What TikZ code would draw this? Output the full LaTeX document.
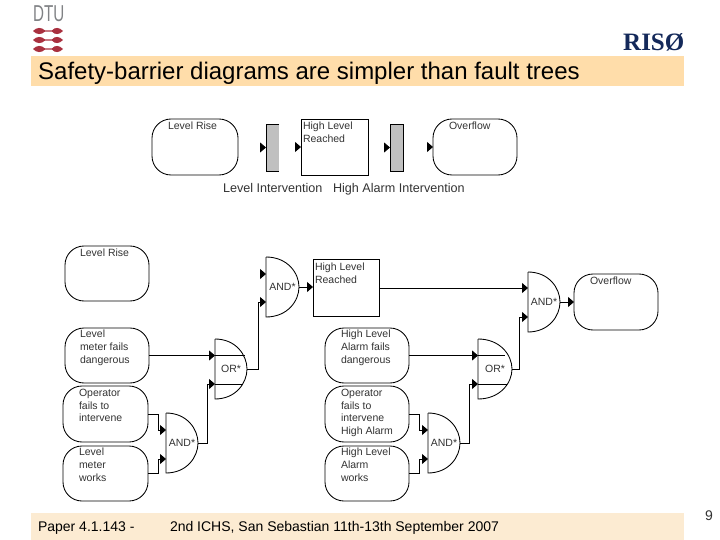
\documentclass[tikz,border=0pt]{standalone}
\usepackage{fontspec}
\setmainfont{Liberation Sans}
\newfontfamily\risofont{Liberation Serif}
\usetikzlibrary{arrows.meta}
\definecolor{headband}{HTML}{FFDDAA}
\definecolor{footband}{HTML}{FCEBD2}
\definecolor{barrier}{HTML}{C0C0C0}
\definecolor{dtured}{HTML}{A9303F}
\definecolor{dtugray}{HTML}{808285}
\definecolor{risoblue}{HTML}{14295A}
\tikzset{
  lin/.style={draw=black,line width=0.85pt},
  arr/.style={lin,-{Triangle[length=6pt,width=10pt]}},
  rbox/.style={lin,rounded corners=19pt,inner sep=0pt,outer sep=0pt},
  sbox/.style={lin,inner sep=0pt,outer sep=0pt},
  gatebox/.style={inner sep=0pt,outer sep=0pt,font=\fontsize{10.5}{12.5}\selectfont,text=black!80},
  lbl/.style={anchor=north west,inner sep=0pt,outer sep=0pt,align=left,font=\fontsize{10.5}{12.7}\selectfont,text=black!80},
  captext/.style={anchor=base west,inner sep=0pt,outer sep=0pt,font=\fontsize{12.6}{14}\selectfont,text=black!80},
  foot/.style={anchor=base west,inner sep=0pt,outer sep=0pt,font=\fontsize{14}{16}\selectfont},
}
% \gategl{name}{left x}{mid y}{width}{label}
\newcommand{\gategl}[5]{%
  \node[gatebox,minimum width=#4pt,minimum height=60pt] (#1) at (#2+#4/2,#3) {\raisebox{-1pt}{#5}};
  \draw[lin] (#2,#3-30) -- (#2,#3+30)
     .. controls (#2+#4*0.65,#3+30) and (#2+#4,#3+14) .. (#2+#4,#3)
     .. controls (#2+#4,#3-14) and (#2+#4*0.65,#3-30) .. (#2,#3-30);}
% \rboxat{name}{x1}{y1}{x2}{y2}
\newcommand{\rboxat}[5]{\node[rbox,minimum width=#4pt-#2pt,minimum height=#5pt-#3pt] (#1) at ({(#2+#4)/2},{(#3+#5)/2}) {};}
\newcommand{\sboxat}[5]{\node[sbox,minimum width=#4pt-#2pt,minimum height=#5pt-#3pt] (#1) at ({(#2+#4)/2},{(#3+#5)/2}) {};}
\newcommand{\dtumark}[2]{%
  \fill[dtured] (#1,#2) .. controls (#1+4,#2-4) and (#1+8,#2-4) .. (#1+12,#2-0.6)
     -- (#1+19,#2-0.6) .. controls (#1+22,#2-4) and (#1+26,#2-4) .. (#1+30,#2)
     .. controls (#1+26,#2+4) and (#1+22,#2+4) .. (#1+19,#2+0.6)
     -- (#1+12,#2+0.6) .. controls (#1+8,#2+4) and (#1+4,#2+4) .. (#1,#2) -- cycle;}
\begin{document}
\begin{tikzpicture}[x=1pt,y=-1pt]
\useasboundingbox (0,0) rectangle (720,540);
\fill[white] (0,0) rectangle (720,540);
% bands
\fill[headband] (31,56) rectangle (684,86);
\fill[footband] (31,513) rectangle (684,540);
% logos
\node[inner sep=0pt,anchor=base west,text=dtugray,font=\fontsize{23}{23}\selectfont,xscale=0.66] (dtu) at (33,22) {DTU};
\dtumark{33}{31}
\dtumark{33}{40}
\dtumark{33}{49}
\node[inner sep=0pt,anchor=base west,text=risoblue,font=\risofont\bfseries\fontsize{25}{25}\selectfont,xscale=1] (riso) at (623,51) {RISØ};
% title and footer
\node[anchor=base west,inner sep=0pt,font=\fontsize{24}{28}\selectfont] (title) at (38,79.5) {Safety-barrier diagrams are simpler than fault trees};
\node[foot] (paper) at (38,531) {Paper 4.1.143 -};
\node[foot] (conf) at (170,531) {2nd ICHS, San Sebastian 11th-13th September 2007};
\node[anchor=base west,inner sep=0pt,font=\fontsize{14}{16}\selectfont,text=black!80] (pageno) at (705,520) {9};

% ---- top diagram
\rboxat{tlr}{152}{119}{238}{175}
\sboxat{thl}{301}{119}{368}{175}
\rboxat{tof}{433}{119}{517}{175}
\node[inner sep=0pt,outer sep=0pt,fill=barrier,minimum width=13pt,minimum height=47pt] (tb1) at (272.5,147.5) {};
\draw[lin] (tb1.north east) -- (tb1.north west) -- (tb1.south west) -- (tb1.south east);
\node[sbox,fill=barrier,minimum width=13pt,minimum height=47pt] (tb2) at (396.5,147.5) {};
\draw[arr] ([xshift=-6pt]tb1.west) -- (tb1.west);
\draw[arr] ([xshift=-6pt]thl.west) -- (thl.west);
\draw[arr] ([xshift=-6pt]tb2.west) -- (tb2.west);
\draw[arr] ([xshift=-6pt]tof.west) -- (tof.west);
\node[lbl] (t1) at (168,122) {Level Rise};
\node[lbl] (t2) at (303,122) {High Level\\Reached};
\node[lbl] (t3) at (449,122) {Overflow};
\node[captext] (c1) at (223,193) {Level Intervention};
\node[captext] (c2) at (333,193) {High Alarm Intervention};

% ---- lower diagram: left branch
\rboxat{lr}{65}{246}{149}{301}
\rboxat{lm}{65}{328}{149}{383}
\rboxat{op}{63}{386}{148}{442}
\rboxat{lw}{63}{446}{148}{501}
\gategl{and1}{166}{443}{32}{AND*}
\gategl{or1}{215}{369}{32}{OR*}
\gategl{and2}{266}{287}{33}{AND*}
\sboxat{hl}{313}{259}{379}{316}
\node[lbl] at (80,248.5) {Level Rise};
\node[lbl] at (80,330) {Level\\meter fails\\dangerous};
\node[lbl] at (79,389) {Operator\\fails to\\intervene};
\node[lbl] at (79,448) {Level\\meter\\works};
\node[lbl] at (315,263) {High Level\\Reached};
% ---- lower diagram: right branch
\rboxat{ha}{325}{328}{409}{383}
\rboxat{oh}{325}{386}{409}{442}
\rboxat{hw}{325}{446}{409}{501}
\gategl{and3}{428}{443}{32}{AND*}
\gategl{or2}{478}{369}{34}{OR*}
\gategl{and4}{528}{302}{32}{AND*}
\rboxat{ov}{574}{274}{658}{330}
\node[lbl] at (341,330) {High Level\\Alarm fails\\dangerous};
\node[lbl] at (341,389) {Operator\\fails to\\intervene\\High Alarm};
\node[lbl] at (341,448) {High Level\\Alarm\\works};
\node[lbl] at (590,277) {Overflow};
% ---- connectors
\draw[arr] (lm.east) -- (or1.west |- lm.east);
\draw[lin] (or1.west |- lm.east) -- ++(30,0);
\draw[arr] (op.east) -- ++(10,0) |- ([yshift=13pt]and1.west);
\draw[arr] (lw.east) -- ++(10,0) |- ([yshift=-16pt]and1.west);
\draw[arr] (and1.east) -- ++(9,0) |- ([yshift=-15pt]or1.west);
\draw[lin] ([yshift=-15pt]or1.west) -- ++(28,0);
\draw[arr] (or1.east) -- ++(11,0) |- ([yshift=-15pt]and2.west);
\draw[arr] ([xshift=-6pt,yshift=13pt]and2.west) -- ([yshift=13pt]and2.west);
\draw[arr] (and2.east) -- (and2.east -| hl.west);
\draw[arr] ([yshift=-0.5pt]hl.east) -- ([yshift=14pt]and4.west);
\draw[arr] (ha.east) -- (or2.west |- ha.east);
\draw[lin] (or2.west |- ha.east) -- ++(27,0);
\draw[arr] (oh.east) -- ++(10,0) |- ([yshift=13pt]and3.west);
\draw[arr] (hw.east) -- ++(10,0) |- ([yshift=-16pt]and3.west);
\draw[arr] (and3.east) -- ++(9,0) |- ([yshift=-15pt]or2.west);
\draw[lin] ([yshift=-15pt]or2.west) -- ++(29,0);
\draw[arr] (or2.east) -- ++(7,0) |- ([yshift=-15pt]and4.west);
\draw[arr] (and4.east) -- (ov.west);
\end{tikzpicture}
\end{document}
